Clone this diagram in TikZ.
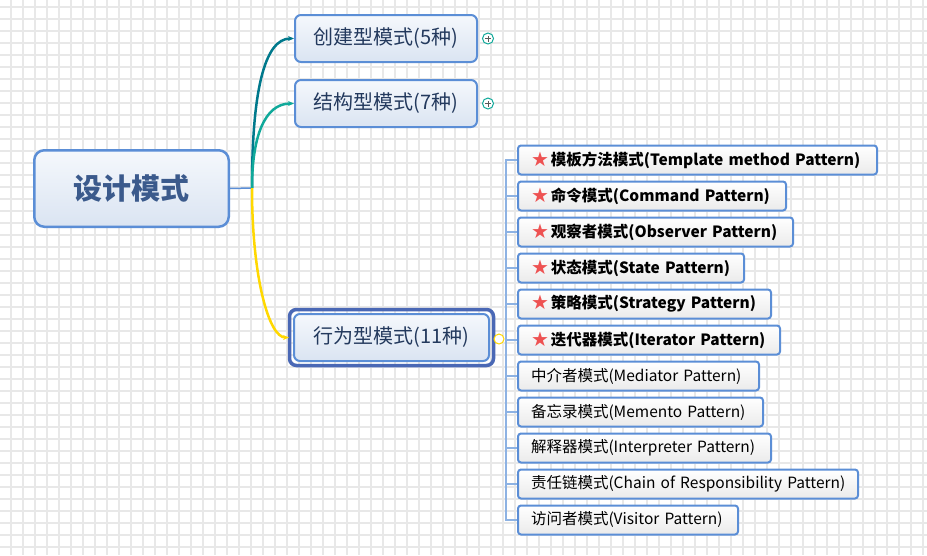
\documentclass[tikz,border=0pt]{standalone}
\usepackage{fontspec}
\newfontfamily\cjk{Noto Sans CJK SC}
\newfontfamily\symfont{DejaVu Sans}
\usepackage{tikz}
\usetikzlibrary{arrows.meta,calc}
\definecolor{boxblue}{HTML}{5B8ED6}
\definecolor{selblue}{HTML}{4A68B5}
\definecolor{gridgray}{HTML}{E8E8E8}
\definecolor{tealdark}{HTML}{00798C}
\definecolor{teallight}{HTML}{10A99A}
\definecolor{branchyellow}{HTML}{FFD800}
\definecolor{rootblue}{HTML}{3B5A8C}
\definecolor{topicnavy}{HTML}{23395D}
\definecolor{starred}{HTML}{EE5252}
\definecolor{spineblue}{HTML}{8DB2E3}
\definecolor{paletop}{HTML}{F5F8FC}
\definecolor{palebottom}{HTML}{DAE4F2}
\newcommand{\starmark}{\mbox{{\symfont\fontsize{20}{18}\selectfont\raisebox{-1pt}{\textcolor{starred}{★}}}\kern2pt}}

\tikzset{
  gridline/.style={gridgray, line width=1.5pt},
  rootbox/.style={draw=boxblue, line width=2.5pt, rounded corners=10pt, top color=paletop, bottom color=palebottom,
    minimum width=194.5pt, minimum height=76.5pt, text=rootblue, font=\cjk\bfseries\fontsize{29}{32}\selectfont},
  topicbox/.style={draw=boxblue, line width=2pt, rounded corners=6pt, top color=paletop, bottom color=palebottom,
    minimum width=182pt, minimum height=47pt, text=topicnavy, font=\cjk\fontsize{20}{22}\selectfont},
  subbox/.style={draw=boxblue, line width=2pt, rounded corners=3pt, top color=white, bottom color=black!8,
    minimum height=29pt, inner xsep=13pt, inner ysep=0pt, anchor=west, align=left, font=\cjk\fontsize{15.5}{18}\selectfont},
  plainsub/.style={subbox},
  keysub/.style={subbox, font=\cjk\bfseries\fontsize{15.5}{18}\selectfont, execute at begin node={\starmark\kern0pt}},
  branch/.style={line width=2.5pt, -{Stealth[length=6pt,width=5pt]}},
  spine/.style={spineblue, line width=1.5pt},
  expander/.style={circle, draw=#1, line width=1pt, fill=white, minimum size=11pt, inner sep=0pt,
    path picture={\draw[black!65, line width=0.9pt] ($(path picture bounding box.center)+(-3pt,0)$) -- ++(6pt,0)
      ($(path picture bounding box.center)+(0,-3pt)$) -- ++(0,6pt);}}
}

\begin{document}
\begin{tikzpicture}[x=1pt, y=1pt]
  \useasboundingbox (0,0) rectangle (927,-555);
  \fill[white] (0,0) rectangle (927,-555);
  \foreach \gx in {11,23,...,923} \draw[gridline] (\gx,0) -- (\gx,-555);
  \foreach \gy in {7,19,...,547} \draw[gridline] (0,-\gy) -- (927,-\gy);

  \node[rootbox] (root) at (131.5,-188.5) {设计模式};
  \node[topicbox] (create) at (386,-38.5) {创建型模式(5种)};
  \node[topicbox] (struct) at (386,-103.5) {结构型模式(7种)};
  \node[topicbox, minimum width=195pt] (behav) at (391.5,-337.5) {行为型模式(11种)};
  \draw[selblue, line width=3.5pt, rounded corners=7pt] ($(behav.south west)+(-3.5,-3.5)$) rectangle ($(behav.north east)+(3.5,3.5)$);

  \node[expander=teallight] (createfold) at ($(create.east)+(10,0)$) {};
  \node[expander=teallight] (structfold) at ($(struct.east)+(10,0)$) {};
  \node[circle, draw=branchyellow, line width=1pt, fill=white, minimum size=10pt, inner sep=0pt] (fold) at ($(behav.east)+(9,-1.5)$) {};

  \coordinate (hub) at (252,-188);
  \draw[boxblue, line width=1.5pt] (root.east) -- (hub);
  \draw[branch, tealdark] (hub) .. controls +(0,95) and +(-30,0) .. (create.west);
  \draw[branch, teallight] (hub) .. controls +(0,50) and +(-30,0) .. (struct.west);
  \draw[branch, branchyellow] (hub) .. controls +(0,-90) and +(-20,0) .. ($(behav.west)+(-4,0)$);

  % behaviour patterns
  \foreach \i/\w/\kind/\txt [evaluate=\w as \tw using \w-28] in {
    1/361/keysub/模板方法模式(Template method Pattern),
    2/270/keysub/命令模式(Command Pattern),
    3/277/keysub/观察者模式(Observer Pattern),
    4/228/keysub/状态模式(State Pattern),
    5/255/keysub/策略模式(Strategy Pattern),
    6/264/keysub/迭代器模式(Iterator Pattern),
    7/243/plainsub/中介者模式(Mediator Pattern),
    8/247/plainsub/备忘录模式(Memento Pattern),
    9/255/plainsub/解释器模式(Interpreter Pattern),
    10/342/plainsub/责任链模式(Chain of Responsibility Pattern),
    11/222/plainsub/访问者模式(Visitor Pattern)}
    \node[\kind, text width=\tw pt] (sub\i) at (517,-160-36*\i+36) {\mbox{\txt}};

  \coordinate (spine) at (506,0);
  \draw[spine] (sub1.west) -- (sub1.west -| spine) |- (sub11.west);
  \foreach \i in {2,...,10} \draw[spine] (sub\i.west) -- (sub\i.west -| spine);
  \draw[black!45, line width=1pt] ($(behav.east)+(3.5,-1.5)$) -- (fold);
  \draw[spine] (fold) -- (fold -| spine);
\end{tikzpicture}
\end{document}
